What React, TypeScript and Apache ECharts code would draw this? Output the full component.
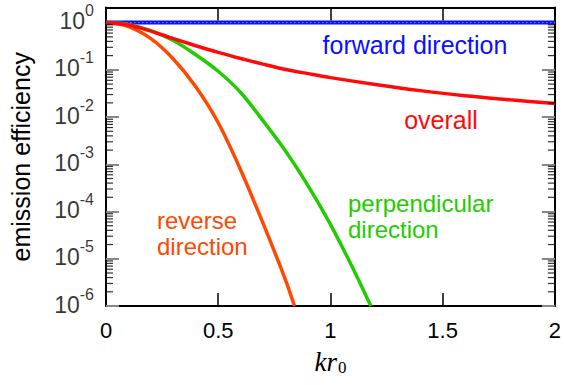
import React, { useEffect, useRef } from "react";
import * as echarts from "echarts";

// kr0 positions and emission efficiencies
const overallKr = [0, 0.1, 0.2, 0.3, 0.4, 0.5, 0.6, 0.7, 0.8, 0.9, 1.0, 1.2, 1.4, 1.6, 1.8, 2.0];
const overallEff = [1, 0.891, 0.661, 0.457, 0.324, 0.234, 0.174, 0.132, 0.102, 0.0832, 0.0684, 0.049, 0.0363, 0.0282, 0.0232, 0.0193];

const perpKr = [0, 0.1, 0.2, 0.3, 0.4, 0.5, 0.6, 0.7, 0.8, 0.9, 1.0, 1.1, 1.18];
const perpEff = [1, 0.912, 0.676, 0.417, 0.209, 0.0933, 0.0331, 0.00832, 0.00191, 0.000355, 5.37e-5, 6.31e-6, 1e-6];

const reverseKr = [0, 0.1, 0.2, 0.3, 0.4, 0.5, 0.6, 0.7, 0.8, 0.84];
const reverseEff = [1, 0.822, 0.457, 0.17, 0.0437, 0.00759, 0.000759, 5.62e-5, 3.55e-6, 1e-6];

const forwardKr = [0, 0.5, 1, 1.5, 2];
const forwardEff = [1, 1, 1, 1, 1];

const xTicks = [0, 0.5, 1, 1.5, 2];
const yDecades = [-6, -5, -4, -3, -2, -1, 0];
const minorMultipliers = [2, 3, 4, 5, 6, 7, 8, 9];

const SANS = '"Liberation Sans", Arial, Helvetica, sans-serif';
const SERIF = '"Liberation Serif", "Times New Roman", serif';

const toPairs = (xs: number[], ys: number[]) => xs.map((x, i) => [x, Math.log10(ys[i])]);

export default function App() {
  const ref = useRef<HTMLDivElement>(null);
  useEffect(() => {
    if (!ref.current) return;
    const chart = echarts.init(ref.current, null, { renderer: "svg" });
    const minorLeft: number[][] = [];
    const minorRight: number[][] = [];
    yDecades.slice(0, -1).forEach((d) => {
      minorMultipliers.forEach((m) => {
        minorLeft.push([0, d + Math.log10(m)]);
        minorRight.push([2, d + Math.log10(m)]);
      });
    });

    const xCommon = {
      type: "value",
      min: 0,
      max: 2,
      interval: 0.5,
      splitLine: { show: false },
      axisLine: { show: true, onZero: false, lineStyle: { color: "#000", width: 2 } },
      axisTick: { show: true, inside: true, length: 13, lineStyle: { color: "#000", width: 1.5 }, customValues: [0.5, 1, 1.5] },
    };
    const yCommon = {
      type: "value",
      min: -6,
      max: 0.32,
      interval: 1,
      splitLine: { show: false },
      axisLine: { show: true, onZero: false, lineStyle: { color: "#000", width: 2 } },
      axisTick: { show: true, inside: true, length: 13, lineStyle: { color: "#888", width: 2 }, customValues: yDecades },
    };

    const minorTickSeries = (data: number[][], offset: number) => ({
      type: "scatter",
      silent: true,
      clip: false,
      data,
      symbol: "rect",
      symbolSize: [7, 1.2],
      symbolOffset: [offset, 0],
      itemStyle: { color: "#000" },
      z: 5,
    });

    const option: any = {
      animation: false,
      grid: { left: 105, right: 6.5, top: 7.5, bottom: 74, containLabel: false },
      xAxis: [
        {
          ...xCommon,
          position: "bottom",
          axisLabel: { show: true, fontSize: 22, fontFamily: SANS, color: "#000", margin: 13, customValues: xTicks },
          name: "{i|kr}{s|0}",
          nameLocation: "middle",
          nameGap: 42,
          nameTextStyle: {
            rich: {
              i: { fontSize: 27, fontFamily: SERIF, fontStyle: "italic", color: "#000", lineHeight: 28, verticalAlign: "top", padding: [0, 0, 5, 0] },
              s: { fontSize: 17, fontFamily: SERIF, color: "#000", lineHeight: 17, verticalAlign: "bottom", padding: [0, 0, 0, 1] },
            },
          },
        },
        { ...xCommon, position: "top", axisLabel: { show: false } },
      ],
      yAxis: [
        {
          ...yCommon,
          position: "left",
          axisLabel: { show: false },
          name: "emission efficiency",
          nameLocation: "middle",
          nameRotate: 90,
          nameGap: 73,
          nameTextStyle: { fontSize: 25, fontFamily: SANS, color: "#000" },
        },
        { ...yCommon, position: "right", axisLabel: { show: false } },
      ],
      series: [
        minorTickSeries(minorLeft, 3.5),
        minorTickSeries(minorRight, -3.5),
        {
          type: "scatter",
          name: "y tick labels",
          silent: true,
          clip: false,
          symbolSize: 0,
          data: yDecades.map((d) => [0, d]),
          label: {
            show: true,
            position: "left",
            distance: 12,
            offset: [0, -5],
            formatter: (p: any) => `{b|10}{s|${Math.round(p.value[1])}}`,
            rich: {
              b: { fontSize: 23, fontFamily: SANS, color: "#000", lineHeight: 30, verticalAlign: "bottom" },
              s: { fontSize: 16, fontFamily: SANS, color: "#000", lineHeight: 16, verticalAlign: "top" },
            },
          },
        },
        {
          type: "line",
          name: "forward",
          data: toPairs(forwardKr, forwardEff),
          showSymbol: false,
          lineStyle: { color: "#0a10ff", width: 4 },
        },
        {
          type: "line",
          name: "forward-dots",
          data: toPairs(forwardKr, forwardEff),
          showSymbol: false,
          lineStyle: { color: "#7d8cff", width: 1, type: [1.5, 2.5] },
        },
        {
          type: "line",
          name: "reverse",
          data: toPairs(reverseKr, reverseEff),
          showSymbol: false,
          smooth: 0.3,
          lineStyle: { color: "#ff4800", width: 3.5 },
        },
        {
          type: "line",
          name: "perpendicular",
          data: toPairs(perpKr, perpEff),
          showSymbol: false,
          smooth: 0.3,
          lineStyle: { color: "#22cc00", width: 3.5 },
        },
        {
          type: "line",
          name: "overall",
          data: toPairs(overallKr, overallEff),
          showSymbol: false,
          smooth: 0.3,
          lineStyle: { color: "#ff0a0a", width: 3.5 },
        },
      ],
      graphic: [
        { type: "text", x: 415, y: 45, style: { text: "forward direction", fill: "#0a10ff", font: `25px ${SANS}`, align: "center", verticalAlign: "middle" } },
        { type: "text", x: 441, y: 120, style: { text: "overall", fill: "#ff0a0a", font: `25px ${SANS}`, align: "center", verticalAlign: "middle" } },
        { type: "text", x: 348, y: 203, style: { text: "perpendicular", fill: "#22cc00", font: `24px ${SANS}`, align: "left", verticalAlign: "middle" } },
        { type: "text", x: 348, y: 229, style: { text: "direction", fill: "#22cc00", font: `24px ${SANS}`, align: "left", verticalAlign: "middle" } },
        { type: "text", x: 157, y: 220, style: { text: "reverse", fill: "#ff4800", font: `24px ${SANS}`, align: "left", verticalAlign: "middle" } },
        { type: "text", x: 157, y: 246, style: { text: "direction", fill: "#ff4800", font: `24px ${SANS}`, align: "left", verticalAlign: "middle" } },
      ],
    };
    chart.setOption(option);
    return () => chart.dispose();
  }, []);
  return <div ref={ref} style={{ width: 564, height: 385, position: "absolute", left: 0, top: 0, background: "#fff" }} />;
}
